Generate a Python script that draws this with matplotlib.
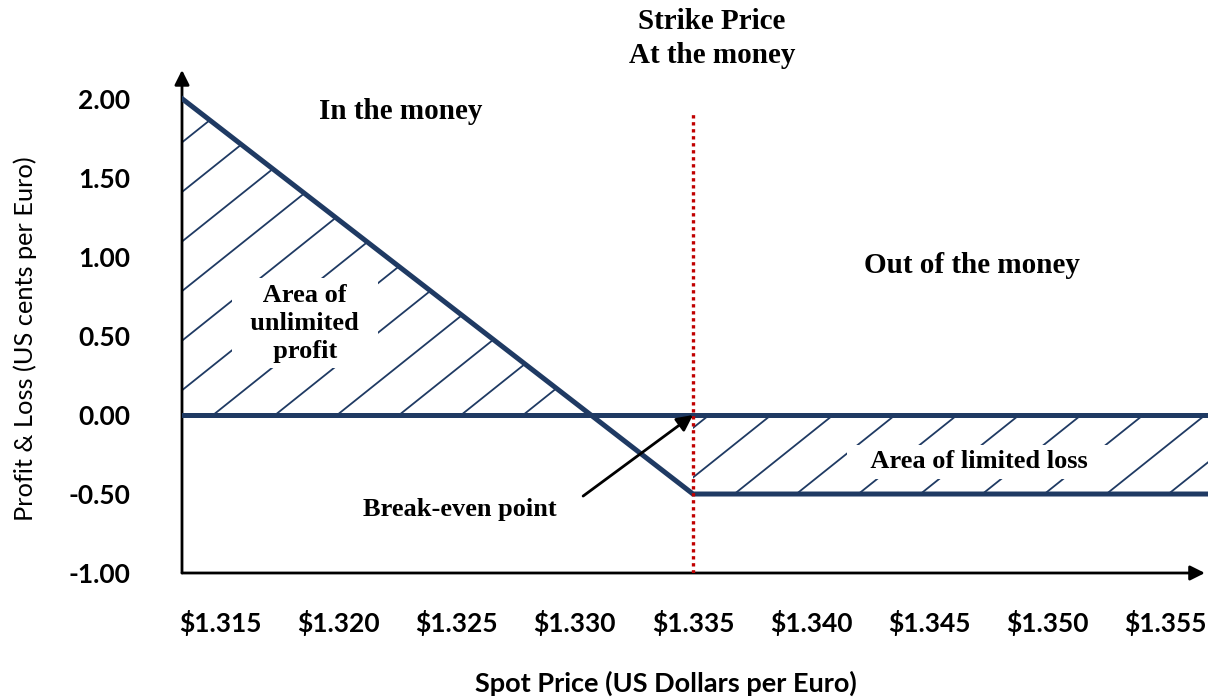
import numpy as np
import matplotlib
matplotlib.use("Agg")
import matplotlib.pyplot as plt
from matplotlib.collections import LineCollection

# payoff of a long put (schematic), spot in USD per EUR, P&L in US cents
spot = [1.3134, 1.335, 1.3568]
pnl = [2.00, -0.50, -0.50]
strike = 1.335

x_ticks = [1.315, 1.320, 1.325, 1.330, 1.335, 1.340, 1.345, 1.350, 1.355]
x_labels = ['$1.315', '$1.320', '$1.325', '$1.330', '$1.335',
            '$1.340', '$1.345', '$1.350', '$1.355']
y_ticks = [2.0, 1.5, 1.0, 0.5, 0.0, -0.5, -1.0]
y_labels = ['2.00', '1.50', '1.00', '0.50', '0.00', '-0.50', '-1.00']

navy = '#1f3a63'
serif = 'Liberation Serif'
sans = 'Lato'

fig = plt.figure(figsize=(12.08, 6.97), dpi=100)
ax = fig.add_axes([182 / 1208, 124 / 697, 1026 / 1208, 503 / 697])
ax.set_xlim(1.313375, 1.356794)
ax.set_ylim(-1.0, 2.184)

for s in ax.spines.values():
    s.set_visible(False)

# axis arrows
ax.annotate('', xy=(0, 1), xytext=(0, 0), xycoords='axes fraction',
            arrowprops=dict(arrowstyle='-|>', color='black', lw=2,
                            mutation_scale=22, shrinkA=0, shrinkB=0))
ax.annotate('', xy=(0.997, 0), xytext=(0, 0), xycoords='axes fraction',
            arrowprops=dict(arrowstyle='-|>', color='black', lw=2,
                            mutation_scale=22, shrinkA=0, shrinkB=0))

# regions (invisible fills, used to clip the hatching)
pnl_arr = np.array(pnl)
profit = ax.fill_between(spot, pnl, 0, where=pnl_arr > 0, interpolate=True,
                         facecolor='none', edgecolor='none')
loss = ax.fill_between(spot[1:], pnl[1:], 0, facecolor='none', edgecolor='none')

# sparse diagonal hatching
slope = 119.6
step = 0.002624
x0s = np.arange(1.31469 - 10 * step, 1.36, step)
segs = [[(x0 - 1.0 / slope, -1.0), (x0 + 2.2 / slope, 2.2)] for x0 in x0s]
for region in (profit, loss):
    lc = LineCollection(segs, colors=navy, linewidths=1.3, zorder=2)
    ax.add_collection(lc)
    lc.set_clip_path(region.get_paths()[0], ax.transData)

# zero line and payoff line
ax.axhline(0, color=navy, lw=3.6, zorder=3)
ax.plot(spot, pnl, color=navy, lw=3.6, solid_joinstyle='miter', zorder=4)

# strike line
ax.vlines(strike, -1.0, 1.91, colors='#c00000', linestyles=(0, (1, 1.1)),
          lw=2.4, zorder=5)

# ticks
ax.set_xticks(x_ticks)
ax.set_xticklabels([t.replace('$', r'\$') for t in x_labels],
                   fontfamily=sans, fontweight='bold', fontsize=19)
ax.set_yticks(y_ticks)
ax.set_yticklabels(y_labels, fontfamily=sans, fontweight='bold', fontsize=19)
ax.tick_params(axis='x', length=0, pad=27)
ax.tick_params(axis='y', length=0, pad=37)

fig.text(666 / 1208, 1 - 683 / 697, 'Spot Price (US Dollars per Euro)',
         fontfamily=sans, fontweight='bold', fontsize=19.5,
         ha='center', va='center')
fig.text(25 / 1208, 1 - 339 / 697, 'Profit & Loss (US cents per Euro)',
         fontfamily=sans, fontsize=18.3, rotation=90,
         ha='center', va='center')

# annotations
tkw = dict(fontfamily=serif, fontweight='bold', ha='center', va='center')
ax.text(1.32264, 1.924, 'In the money', fontsize=21, **tkw)
ax.text(1.34681, 0.949, 'Out of the money', fontsize=21, **tkw)
ax.text(1.33580, 2.494, 'Strike Price', fontsize=21, clip_on=False, **tkw)
ax.text(1.33580, 2.278, 'At the money', fontsize=21, clip_on=False, **tkw)
ax.text(1.34715, -0.297, '   Area of limited loss   ', fontsize=19, zorder=6,
        bbox=dict(boxstyle='square,pad=0.2', fc='white', ec='none'), **tkw)
ax.text(1.31858, 0.582, '  Area of  \n  unlimited  \n  profit  ', fontsize=19,
        linespacing=1.28, zorder=6,
        bbox=dict(boxstyle='square,pad=0.2', fc='white', ec='none'), **tkw)
ax.text(1.32514, -0.601, 'Break-even point', fontsize=19, **tkw)
ax.annotate('', xy=(strike, 0), xytext=(1.33035, -0.513),
            arrowprops=dict(arrowstyle='-|>', color='black', lw=2,
                            mutation_scale=24, shrinkA=0, shrinkB=0),
            zorder=7)

fig.savefig('out.png', dpi=100)
